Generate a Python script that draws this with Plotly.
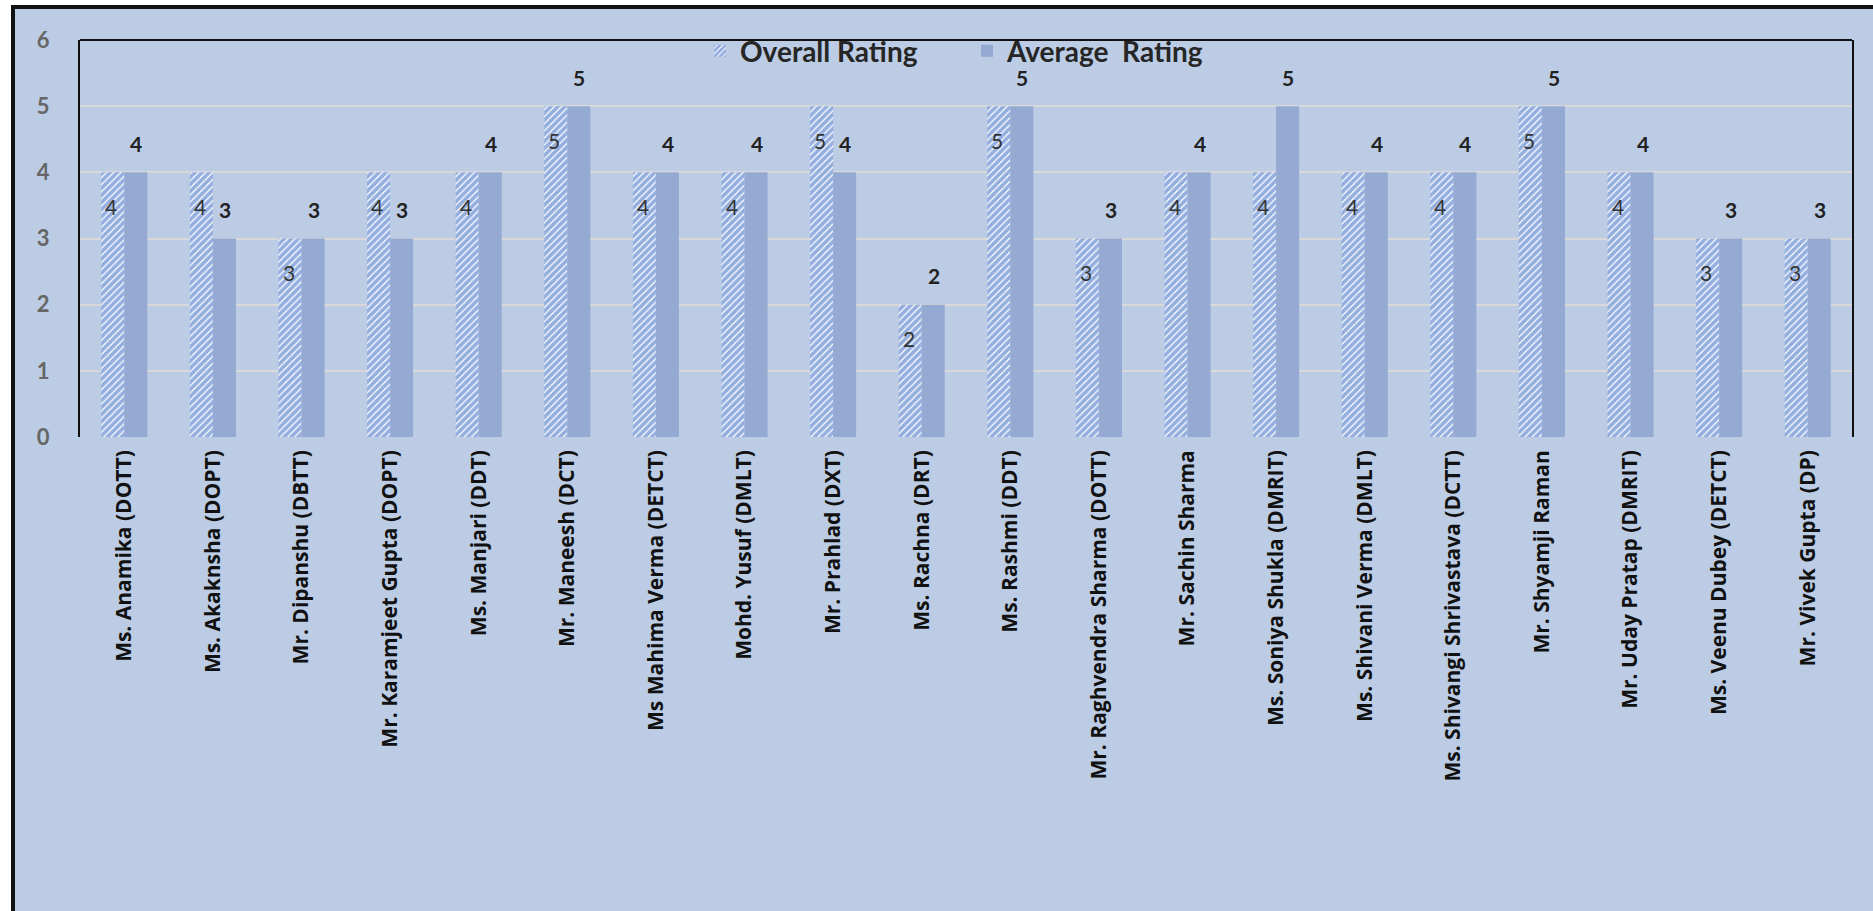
import plotly.graph_objects as go

names = [
    "Ms. Anamika (DOTT)", "Ms. Akaknsha (DOPT)", "Mr. Dipanshu (DBTT)",
    "Mr. Karamjeet Gupta (DOPT)", "Ms. Manjari (DDT)", "Mr. Maneesh (DCT)",
    "Ms Mahima Verma (DETCT)", "Mohd. Yusuf (DMLT)", "Mr. Prahlad (DXT)",
    "Ms. Rachna (DRT)", "Ms. Rashmi (DDT)", "Mr. Raghvendra Sharma (DOTT)",
    "Mr. Sachin Sharma", "Ms. Soniya Shukla (DMRIT)", "Ms. Shivani Verma (DMLT)",
    "Ms. Shivangi Shrivastava (DCTT)", "Mr. Shyamji Raman", "Mr. Uday Pratap (DMRIT)",
    "Ms. Veenu Dubey (DETCT)", "Mr. Vivek Gupta (DP)",
]
overall = [4, 4, 3, 4, 4, 5, 4, 4, 5, 2, 5, 3, 4, 4, 4, 4, 5, 4, 3, 3]
average = [4, 3, 3, 3, 4, 5, 4, 4, 4, 2, 5, 3, 4, 5, 4, 4, 5, 4, 3, 3]
y_ticks = [0, 1, 2, 3, 4, 5, 6]

BG = "#BBCCE4"
W, H = 1873, 911
ML, MR, MT, MB = 80, 21, 40, 474
pw, ph = W - ML - MR, H - MT - MB

fig = go.Figure()
fig.add_trace(go.Bar(
    name="Overall Rating", x=names, y=overall,
    marker=dict(color="#FFFFFF", line=dict(width=0),
                pattern=dict(shape="/", fgcolor="#2A5FBF", bgcolor="#FFFFFF",
                             size=5, solidity=0.75, fillmode="overlay")),
))
fig.add_trace(go.Bar(
    name="Average  Rating", x=names, y=average,
    marker=dict(color="#95AAD3", line=dict(width=0)),
))

ann = []
for n, v in zip(names, overall):
    ann.append(dict(x=n, y=v, xref="x", yref="y", text=str(v), showarrow=False,
                    xshift=-13, yshift=-34, yanchor="middle",
                    font=dict(family="Lato", size=21, color="#333333")))
for n, v in zip(names, average):
    ann.append(dict(x=n, y=v, xref="x", yref="y", text=str(v), showarrow=False,
                    xshift=12, yshift=29, yanchor="middle",
                    font=dict(family="Lato", size=21, color="#222222", weight="bold")))

shapes = [
    dict(type="rect", xref="paper", yref="paper",
         x0=(13 - ML) / pw, x1=1.2, y0=-1.5, y1=(H - MB - 7) / ph,
         fillcolor=BG, line=dict(color="#111111", width=4), layer="below"),
    dict(type="line", xref="paper", yref="paper", x0=0, x1=1, y0=1, y1=1,
         line=dict(color="#111111", width=2)),
]

fig.update_layout(
    width=W, height=H,
    margin=dict(l=ML, r=MR, t=MT, b=MB, autoexpand=False),
    paper_bgcolor="#FFFFFF", plot_bgcolor="rgba(0,0,0,0)",
    barmode="group", bargap=0.48, bargroupgap=0.0,
    showlegend=True,
    legend=dict(orientation="h", x=(700 - ML) / pw, xanchor="left", y=1.035, yanchor="top",
                bgcolor="rgba(0,0,0,0)", entrywidth=222, entrywidthmode="pixels",
                font=dict(family="Lato", size=28, color="#262626", weight="bold"),
                itemwidth=30, traceorder="normal"),
    xaxis=dict(tickangle=-90, showgrid=False, showline=False, ticks="",
               ticklabelstandoff=8,
               tickfont=dict(family="Open Sans", size=21, color="#111111", weight="bold")),
    yaxis=dict(range=[0, 6], tickvals=y_ticks, showgrid=True, gridcolor="#D9D9D9", gridwidth=2,
               zeroline=False, showline=True, mirror=True, linecolor="#111111", linewidth=2,
               ticks="", ticklabelstandoff=24,
               tickfont=dict(family="Lato", size=22, color="#666666", weight="bold")),
    annotations=ann, shapes=shapes,
)

fig.write_html("out.html", config={"displayModeBar": False},
               post_script="document.body.style.margin='0';")
